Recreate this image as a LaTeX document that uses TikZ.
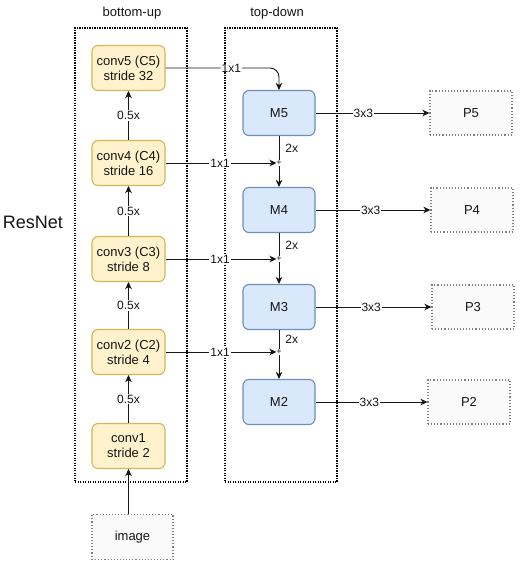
\documentclass[tikz,border=0pt]{standalone}
\usepackage{fontspec}
\setmainfont{Liberation Sans}
\usetikzlibrary{arrows.meta}
\definecolor{yfill}{HTML}{FFF2CC}
\definecolor{ydraw}{HTML}{D6B656}
\definecolor{bfill}{HTML}{DAE8FC}
\definecolor{bdraw}{HTML}{6C8EBF}
\definecolor{pfill}{HTML}{FAFAFA}
\definecolor{ink}{HTML}{151515}
\tikzset{
  convbox/.style={draw=ydraw, fill=yfill, rounded corners=6pt, line width=1.1pt,
    minimum width=73pt, minimum height=45pt, inner sep=0pt, align=center,
    font=\fontsize{13}{15}\selectfont, text=ink},
  mbox/.style={draw=bdraw, fill=bfill, rounded corners=6pt, line width=1.1pt,
    minimum width=72pt, minimum height=45pt, inner sep=0pt,
    font=\fontsize{13}{15}\selectfont, text=ink},
  pbox/.style={draw=gray, fill=pfill, dotted, line width=1.1pt,
    minimum width=82pt, minimum height=44pt, inner sep=0pt,
    font=\fontsize{13}{15}\selectfont, text=ink},
  framebox/.style={draw=black, line width=1.5pt, dash pattern=on 1.2pt off 1.3pt,
    minimum width=112pt, minimum height=454pt, inner sep=0pt},
  ttl/.style={font=\fontsize{13}{15}\selectfont, text=ink},
  lbl/.style={font=\fontsize{12}{14}\selectfont, text=ink, fill=white, inner sep=1pt},
  lblplain/.style={font=\fontsize{12}{14}\selectfont, text=ink, inner sep=1pt},
  plusmark/.style={font=\fontsize{9}{10}\selectfont, text=ink, inner sep=0.3pt},
  arr/.style={draw=ink, line width=0.9pt, -{Stealth[length=7pt,width=6.5pt,inset=2pt]}},
  ln/.style={draw=ink, line width=0.9pt},
}
\begin{document}
\begin{tikzpicture}[x=1pt,y=-1pt]
\useasboundingbox (0,0) rectangle (521,563);
% frames
\node[framebox] (bu) at (131,255) {};
\node[framebox] (td) at (281,255) {};
\node[ttl] (tbu) at (132,13) {bottom-up};
\node[ttl] (ttd) at (277,13) {top-down};
\node[font=\fontsize{18}{20}\selectfont, text=ink] (resnet) at (33,222) {ResNet};
% bottom-up
\node[convbox] (c5) at (128.5,68) {conv5 (C5)\\stride 32};
\node[convbox] (c4) at (128.5,163) {conv4 (C4)\\stride 16};
\node[convbox] (c3) at (128.5,259) {conv3 (C3)\\stride 8};
\node[convbox] (c2) at (128.5,352) {conv2 (C2)\\stride 4};
\node[convbox] (c1) at (128.5,446) {conv1\\stride 2};
\node[pbox, minimum width=81pt, minimum height=45pt] (img) at (132.5,537) {image};
% top-down
\node[mbox] (m5) at (279,113) {M5};
\node[mbox] (m4) at (279,210) {M4};
\node[mbox] (m3) at (279,307) {M3};
\node[mbox] (m2) at (279,402) {M2};
% outputs
\node[pbox] (p5) at (471,113) {P5};
\node[pbox] (p4) at (472,210) {P4};
\node[pbox] (p3) at (473,307) {P3};
\node[pbox] (p2) at (469,402) {P2};
% merge points
\coordinate (s4) at (279,163);
\coordinate (s3) at (279,259);
\coordinate (s2) at (279,352);
% bottom-up arrows
\draw[arr] (img.north -| c1.south) -- (c1.south);
\draw[arr] (c1.north) -- node[lbl]{0.5x} (c2.south);
\draw[arr] (c2.north) -- node[lbl]{0.5x} (c3.south);
\draw[arr] (c3.north) -- node[lbl]{0.5x} (c4.south);
\draw[arr] (c4.north) -- node[lbl]{0.5x} (c5.south);
% lateral
\draw[arr, rounded corners=9pt] (c5.east) -| node[lbl, pos=0.29]{1x1} (m5.north);
\draw[arr, shorten >=2.5pt] (c4.east) -- node[lbl, pos=0.48]{1x1} (s4);
\draw[arr, shorten >=2.5pt] (c3.east) -- node[lbl, pos=0.48]{1x1} (s3);
\draw[arr, shorten >=2.5pt] (c2.east) -- node[lbl, pos=0.48]{1x1} (s2);
% top-down
\draw[ln] (m5.south) -- node[lblplain, anchor=west, xshift=5pt, yshift=1pt]{2x} (s4);
\draw[arr] (s4) -- (m4.north);
\draw[ln] (m4.south) -- node[lblplain, anchor=west, xshift=5pt, yshift=1pt]{2x} (s3);
\draw[arr] (s3) -- (m3.north);
\draw[ln] (m3.south) -- node[lblplain, anchor=west, xshift=5pt, yshift=2pt]{2x} (s2);
\draw[arr] (s2) -- (m2.north);
\node[plusmark, fill=white] (plus4) at (s4) {+};
\node[plusmark, fill=white] (plus3) at (s3) {+};
\node[plusmark, fill=white] (plus2) at (s2) {+};
% outputs
\draw[arr] (m5.east) -- node[lbl, pos=0.42]{3x3} (p5.west);
\draw[arr] (m4.east) -- node[lbl, pos=0.48]{3x3} (p4.west);
\draw[arr] (m3.east) -- node[lbl, pos=0.48]{3x3} (p3.west);
\draw[arr] (m2.east) -- node[lbl, pos=0.48]{3x3} (p2.west);
\end{tikzpicture}
\end{document}
